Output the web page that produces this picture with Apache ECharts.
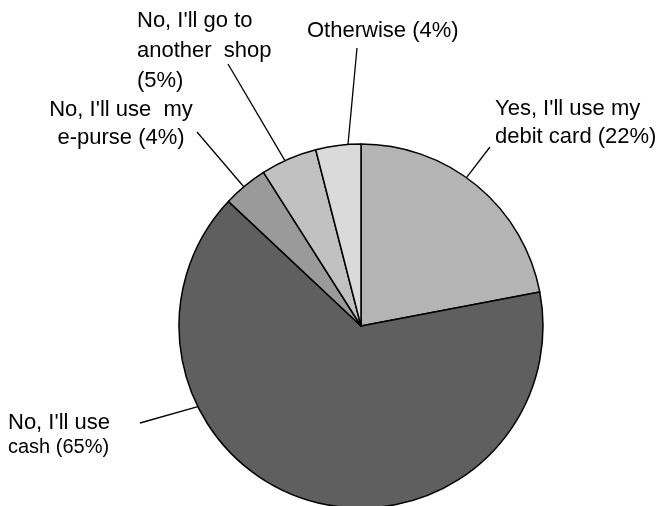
<!DOCTYPE html>
<html>
<head>
<meta charset="utf-8">
<title>Payment choice</title>
<script src="https://cdn.jsdelivr.net/npm/echarts@6/dist/echarts.min.js"></script>
<style>
  html, body { margin: 0; padding: 0; background: #fff; }
  #chart { width: 660px; height: 506px; }
</style>
</head>
<body>
<div id="chart"></div>
<script>
// Answer categories, clockwise from 12 o'clock
const categories = [
  "Yes, I'll use my debit card",
  "No, I'll use cash",
  "No, I'll use my e-purse",
  "No, I'll go to another shop",
  "Otherwise"
];
// Share of respondents, percent
const shares = [22, 65, 4, 5, 4];
// How each label's name is broken over lines
const labelLines = [
  ["Yes, I'll use my", "debit card"],
  ["No, I'll use", "cash"],
  ["No, I'll use  my", "e-purse"],
  ["No, I'll go to", "another  shop", ""],
  ["Otherwise"]
];

const sliceColors = ['#b4b4b4', '#5f5f5f', '#9a9a9a', '#c1c1c1', '#dadada'];

const CX = 361, CY = 326, R = 182;
const FONT = '"Liberation Sans", Arial, sans-serif';

// Label placement: top-left (or top-centre) of the text block,
// angle where the leader touches the rim, and the leader's outer end.
const labelPlacement = [
  { x: 495, y: 95, align: 'left',   rimAngle: 35.4,  end: [490, 147] },
  { x: 8,   y: 411, align: 'left',  rimAngle: 243.7, end: [140, 423] },
  { x: 121, y: 96, align: 'center', rimAngle: 319.9, end: [197, 132] },
  { x: 137, y: 6,  align: 'left',   rimAngle: 335.3, end: [228, 64] },
  { x: 307, y: 17, align: 'left',   rimAngle: 355.9, end: [357, 48] }
];

function rimPoint(deg) {
  const a = deg * Math.PI / 180;
  return [CX + R * Math.sin(a), CY - R * Math.cos(a)];
}

const pieData = categories.map((name, i) => ({
  name: name,
  value: shares[i],
  itemStyle: { color: sliceColors[i] }
}));

function labelText(i) {
  const lines = labelLines[i].slice();
  const pct = '(' + shares[i] + '%)';
  const last = lines.length - 1;
  lines[last] = lines[last] ? lines[last] + ' ' + pct : pct;
  if (i === 1) {
    return '{a|' + lines[0] + '}\n{s|' + lines[1] + '}';
  }
  const style = i === 3 ? 'g' : 'b';
  return lines.map(l => '{' + style + '|' + l + '}').join('\n');
}

const chart = echarts.init(document.getElementById('chart'), null, { renderer: 'canvas' });

chart.setOption({
  backgroundColor: '#ffffff',
  animation: false,
  series: [{
    type: 'pie',
    center: [CX, CY],
    radius: [0, R],
    startAngle: 90,
    clockwise: true,
    avoidLabelOverlap: false,
    itemStyle: { borderColor: '#000', borderWidth: 1.5 },
    emphasis: { disabled: true },
    data: pieData,
    label: {
      show: true,
      color: '#000',
      fontFamily: FONT,
      formatter: p => labelText(p.dataIndex),
      rich: {
        b: { fontSize: 22, lineHeight: 28, color: '#000', fontFamily: FONT },
        g: { fontSize: 22, lineHeight: 30, color: '#000', fontFamily: FONT },
        a: { fontSize: 22, lineHeight: 24, color: '#000', fontFamily: FONT },
        s: { fontSize: 20, lineHeight: 24, color: '#000', fontFamily: FONT }
      }
    },
    labelLine: {
      show: true,
      smooth: false,
      lineStyle: { color: '#000', width: 1.3 }
    },
    labelLayout: function (params) {
      const p = labelPlacement[params.dataIndex];
      const rim = rimPoint(p.rimAngle);
      return {
        x: p.x,
        y: p.y,
        align: p.align,
        verticalAlign: 'top',
        labelLinePoints: [rim, p.end, p.end]
      };
    }
  }]
});
</script>
</body>
</html>
